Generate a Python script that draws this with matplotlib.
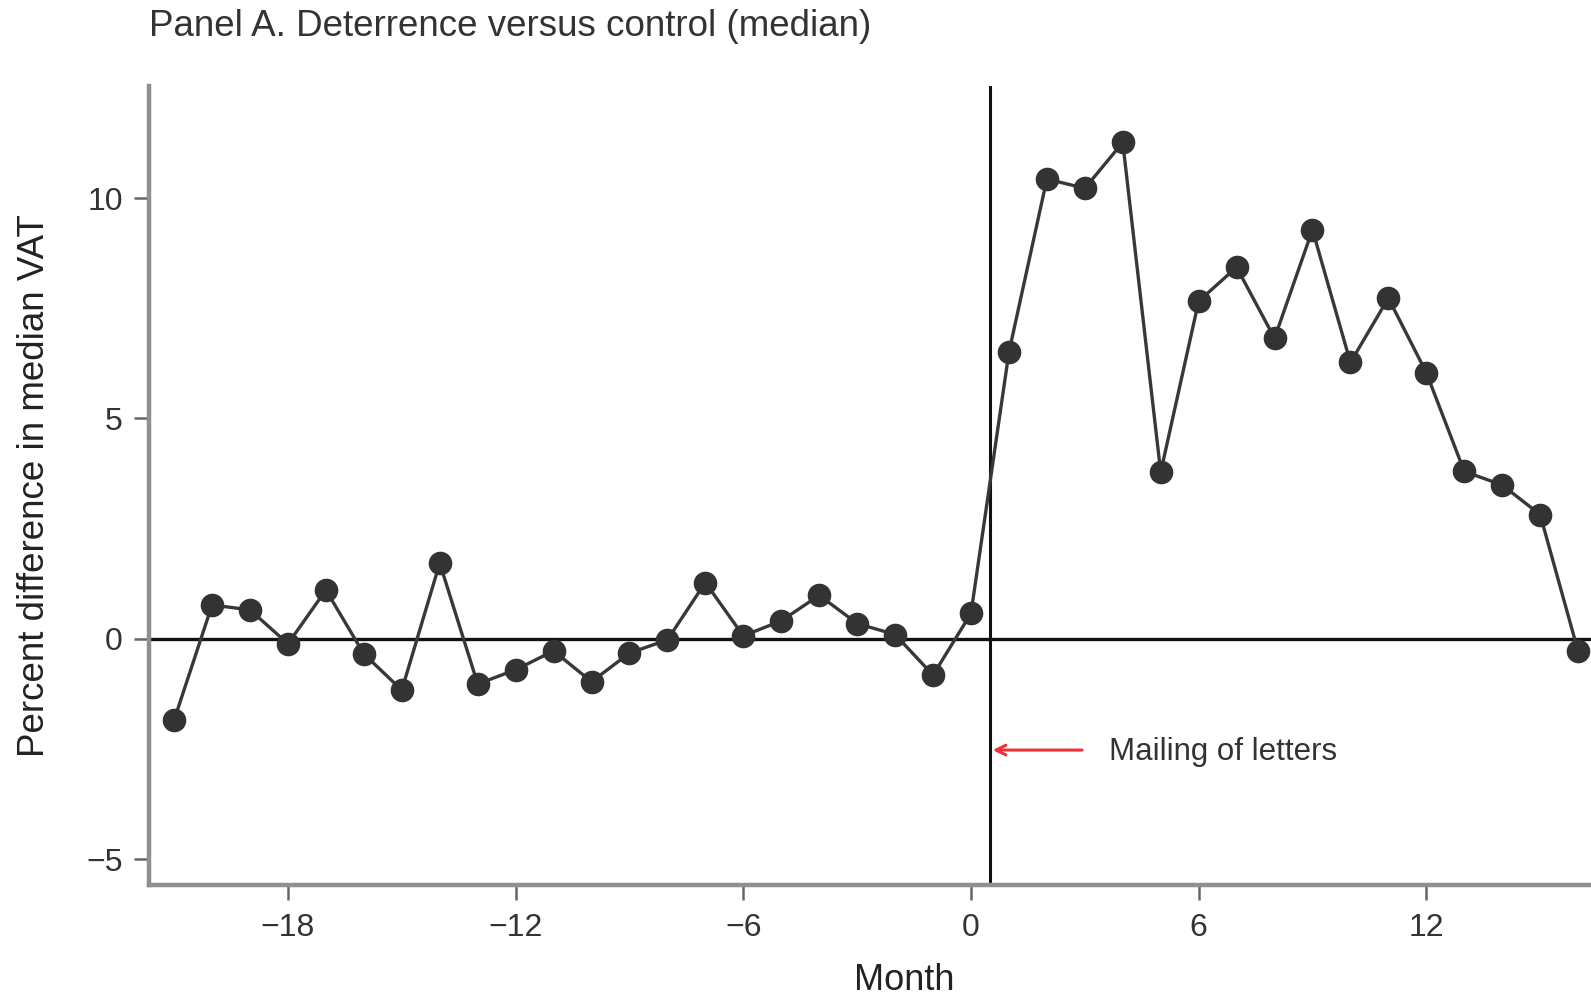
import matplotlib
matplotlib.use("Agg")
import matplotlib.pyplot as plt

# Monthly percent difference in median VAT, deterrence vs control
months = list(range(-21, 17))
pct_diff = [
    -1.84, 0.77, 0.66, -0.11, 1.11, -0.34, -1.16, 1.72, -1.02, -0.70,
    -0.27, -0.97, -0.32, -0.02, 1.28, 0.07, 0.41, 0.99, 0.35, 0.10,
    -0.82, 0.58,
    6.50, 10.43, 10.22, 11.26, 3.78, 7.66, 8.43, 6.82, 9.28, 6.27,
    7.73, 6.04, 3.80, 3.49, 2.82, -0.28,
]
x_ticks = [-18, -12, -6, 0, 6, 12]
y_ticks = [-5, 0, 5, 10]
mailing_month = 0.5

plt.rcParams["font.family"] = ["Liberation Sans", "DejaVu Sans"]

fig = plt.figure(figsize=(15.91, 10), dpi=100)
ax = fig.add_axes([0.0937, 0.115, 1 - 0.0937, 0.914 - 0.115])

ax.set_xlim(-21.66, 16.34)
ax.set_ylim(-5.58, 12.54)

ax.axhline(0, color="#111111", lw=2.4, zorder=1)
ax.axvline(mailing_month, color="#111111", lw=2.2, zorder=1)

ax.plot(months, pct_diff, color="#383838", lw=2.4, marker="o",
        markersize=16, markerfacecolor="#333333", markeredgecolor="#333333",
        zorder=3, clip_on=False)

ax.annotate("", xy=(mailing_month, -2.52), xytext=(3.0, -2.52),
            arrowprops=dict(arrowstyle="->,head_length=0.7,head_width=0.35",
                            color="#ec3238", lw=2.2))
ax.text(3.65, -2.57, "Mailing of letters", fontsize=22.5, color="#333333",
        va="center", ha="left")

for side in ("top", "right"):
    ax.spines[side].set_visible(False)
for side in ("left", "bottom"):
    ax.spines[side].set_color("#8f8f8f")
    ax.spines[side].set_linewidth(3.2)

ax.set_xticks(x_ticks)
ax.set_yticks(y_ticks)
ax.set_xticklabels([f"\u2212{abs(v)}" if v < 0 else str(v) for v in x_ticks])
ax.set_yticklabels([f"\u2212{abs(v)}" if v < 0 else str(v) for v in y_ticks])
ax.tick_params(axis="x", length=11, width=1.8, color="#666666",
               labelsize=23, labelcolor="#333333", pad=9)
ax.tick_params(axis="y", length=11, width=1.8, color="#666666",
               labelsize=23, labelcolor="#333333", pad=8)

ax.set_xlabel("Month", fontsize=26, color="#222222")
ax.xaxis.set_label_coords(0.524, -0.098)
ax.set_ylabel("Percent difference in median VAT", fontsize=26.5, color="#222222")
ax.yaxis.set_label_coords(-0.067, 0.5)

fig.text(149 / 1591, 1 - 26 / 1000, "Panel A. Deterrence versus control (median)",
         fontsize=26.5, color="#333333", ha="left", va="center")

fig.savefig("out.png", dpi=100)
